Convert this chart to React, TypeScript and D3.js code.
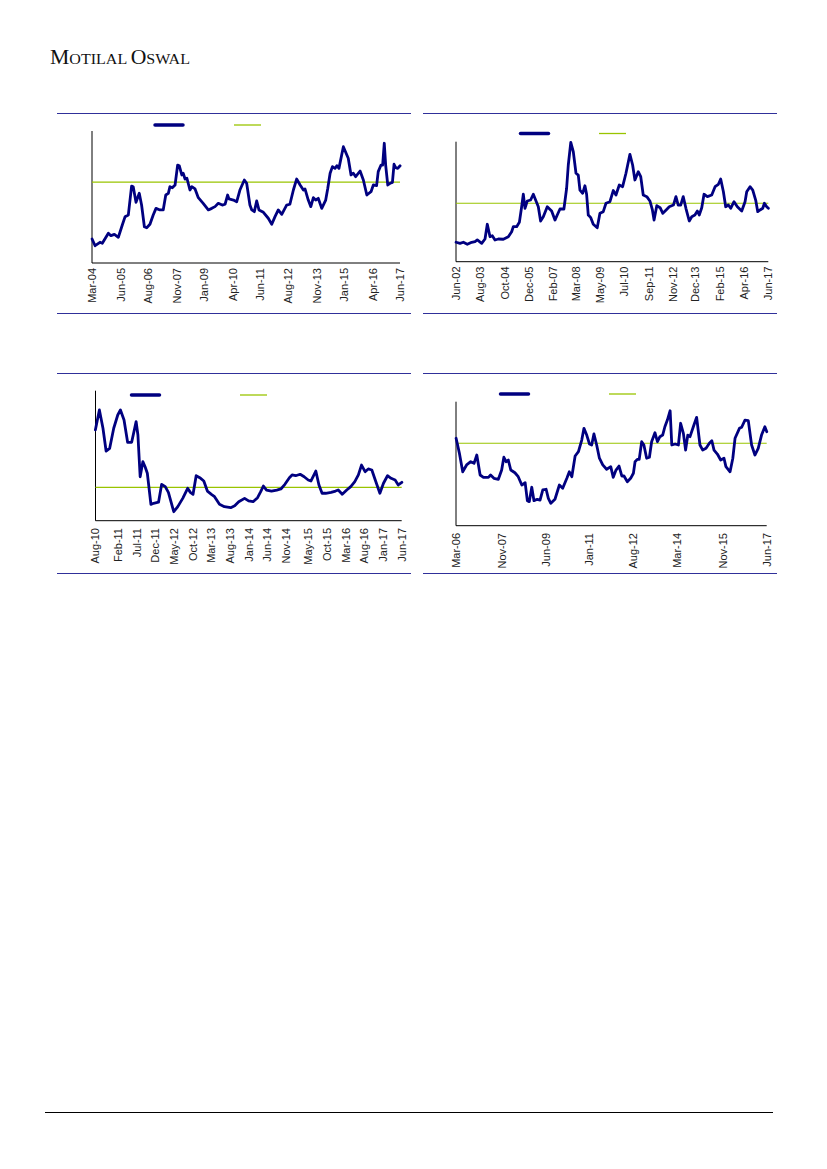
import React from "react";
import * as d3 from "d3";

// ---------- DATA (decimal year, relative value 0-100 of plot height) ----------
const ticksA = ["Mar-04", "Jun-05", "Aug-06", "Nov-07", "Jan-09", "Apr-10", "Jun-11", "Aug-12", "Nov-13", "Jan-15", "Apr-16", "Jun-17"];
const avgA = 61.2;
const seriesA: [number, number][] = [
  [2004.17, 18.2], [2004.3, 13.1], [2004.51, 15.7], [2004.61, 14.9], [2004.87, 22.5], [2004.98, 20.7], [2005.13, 21.7], [2005.3, 19.5],
  [2005.47, 28.8], [2005.59, 35.1], [2005.73, 36.4], [2005.87, 58.3], [2005.94, 57.8], [2006.06, 46.0], [2006.2, 52.8], [2006.3, 43.9],
  [2006.42, 27.5], [2006.52, 26.7], [2006.66, 29.3], [2006.8, 36.4], [2006.92, 41.4], [2007.09, 40.2], [2007.23, 40.2], [2007.34, 51.5],
  [2007.45, 52.8], [2007.52, 57.8], [2007.62, 57.0], [2007.74, 59.1], [2007.85, 74.2], [2007.92, 73.7], [2008.03, 66.7], [2008.09, 68.0],
  [2008.17, 63.6], [2008.25, 64.2], [2008.38, 55.3], [2008.46, 57.8], [2008.6, 56.1], [2008.74, 49.5], [2008.95, 45.2], [2009.17, 40.2],
  [2009.32, 41.4], [2009.46, 42.7], [2009.6, 45.2], [2009.77, 43.9], [2009.89, 44.5], [2010.0, 51.5], [2010.06, 48.5], [2010.25, 47.7],
  [2010.39, 46.4], [2010.53, 55.3], [2010.72, 62.9], [2010.82, 60.4], [2010.96, 43.9], [2011.04, 40.2], [2011.15, 38.9], [2011.25, 47.0],
  [2011.35, 40.2], [2011.54, 38.4], [2011.75, 33.9], [2011.9, 29.3], [2012.04, 35.1], [2012.18, 40.2], [2012.33, 36.9], [2012.54, 43.9],
  [2012.68, 44.5], [2012.83, 55.3], [2012.97, 63.6], [2013.12, 59.1], [2013.26, 55.3], [2013.33, 56.1], [2013.47, 47.7], [2013.58, 42.7],
  [2013.69, 49.5], [2013.79, 47.7], [2013.9, 49.0], [2014.05, 41.4], [2014.22, 47.7], [2014.31, 56.6], [2014.41, 68.0], [2014.51, 73.0],
  [2014.62, 71.7], [2014.7, 73.7], [2014.79, 71.7], [2014.98, 88.1], [2015.19, 79.3], [2015.31, 66.7], [2015.41, 68.0], [2015.51, 65.4],
  [2015.7, 69.7], [2015.84, 62.9], [2015.99, 51.5], [2016.17, 54.0], [2016.27, 59.1], [2016.41, 58.6], [2016.48, 69.2], [2016.6, 74.2],
  [2016.67, 74.2], [2016.74, 90.7], [2016.8, 74.2], [2016.89, 59.1], [2016.99, 60.4], [2017.09, 61.1], [2017.16, 74.8], [2017.23, 72.2],
  [2017.32, 71.7], [2017.42, 73.7],
];

const ticksB = ["Jun-02", "Aug-03", "Oct-04", "Dec-05", "Feb-07", "Mar-08", "May-09", "Jul-10", "Sep-11", "Nov-12", "Dec-13", "Feb-15", "Apr-16", "Jun-17"];
const avgB = 48.7;
const seriesB: [number, number][] = [
  [2002.42, 16.2], [2002.61, 15.3], [2002.77, 16.2], [2002.96, 14.5], [2003.17, 16.2], [2003.33, 16.7], [2003.44, 18.1], [2003.65, 15.3],
  [2003.81, 18.9], [2003.92, 31.2], [2004.05, 20.8], [2004.16, 21.7], [2004.29, 18.1], [2004.45, 18.9], [2004.69, 18.7], [2004.93, 20.8],
  [2005.09, 25.0], [2005.17, 29.2], [2005.33, 29.2], [2005.46, 32.8], [2005.57, 45.8], [2005.65, 56.2], [2005.73, 44.5], [2005.84, 50.6],
  [2006.0, 51.4], [2006.13, 56.2], [2006.26, 50.6], [2006.37, 45.8], [2006.48, 33.9], [2006.61, 37.5], [2006.8, 45.8], [2007.01, 42.2],
  [2007.17, 34.7], [2007.28, 38.9], [2007.41, 43.9], [2007.6, 43.9], [2007.73, 61.2], [2007.81, 80.6], [2007.93, 99.5], [2008.05, 91.7],
  [2008.18, 73.7], [2008.29, 72.2], [2008.37, 59.7], [2008.5, 57.0], [2008.61, 63.3], [2008.69, 56.2], [2008.77, 38.9], [2008.89, 36.7],
  [2009.01, 31.2], [2009.2, 28.3], [2009.33, 40.3], [2009.49, 41.7], [2009.62, 48.7], [2009.81, 50.0], [2009.97, 59.3], [2010.1, 55.6],
  [2010.26, 63.9], [2010.42, 62.5], [2010.58, 73.7], [2010.77, 89.5], [2010.9, 80.6], [2011.01, 68.1], [2011.17, 75.0], [2011.29, 70.8],
  [2011.41, 55.6], [2011.58, 54.2], [2011.73, 50.6], [2011.85, 43.1], [2011.93, 34.7], [2012.06, 46.7], [2012.22, 45.0], [2012.35, 40.3],
  [2012.51, 43.1], [2012.66, 45.8], [2012.86, 47.2], [2012.98, 54.2], [2013.09, 47.2], [2013.21, 47.2], [2013.33, 54.2], [2013.46, 44.5],
  [2013.62, 33.9], [2013.74, 37.5], [2013.89, 38.9], [2014.01, 42.2], [2014.1, 38.9], [2014.22, 45.0], [2014.33, 56.2], [2014.49, 54.2],
  [2014.7, 55.6], [2014.86, 62.5], [2015.02, 64.5], [2015.13, 68.9], [2015.26, 58.3], [2015.37, 45.8], [2015.5, 47.2], [2015.61, 44.5],
  [2015.77, 50.0], [2015.93, 45.8], [2016.14, 42.2], [2016.3, 50.0], [2016.38, 58.3], [2016.54, 62.5], [2016.67, 59.7], [2016.81, 51.4],
  [2016.91, 41.7], [2017.02, 43.1], [2017.15, 44.5], [2017.23, 48.7], [2017.34, 45.8], [2017.42, 44.5],
];

const ticksC = ["Aug-10", "Feb-11", "Jul-11", "Dec-11", "May-12", "Oct-12", "Mar-13", "Aug-13", "Jan-14", "Jun-14", "Nov-14", "May-15", "Oct-15", "Mar-16", "Aug-16", "Jan-17", "Jun-17"];
const avgC = 25.7;
const seriesC: [number, number][] = [
  [2010.58, 69.8], [2010.67, 85.2], [2010.75, 71.1], [2010.82, 53.6], [2010.9, 55.7], [2010.99, 71.1], [2011.08, 81.3], [2011.14, 85.2],
  [2011.22, 77.5], [2011.3, 60.3], [2011.39, 60.3], [2011.49, 76.2], [2011.53, 65.9], [2011.58, 33.8], [2011.64, 45.4], [2011.69, 41.5],
  [2011.74, 36.5], [2011.82, 12.6], [2011.88, 13.4], [2011.99, 14.2], [2012.06, 28.0], [2012.14, 26.2], [2012.21, 21.8], [2012.33, 6.9],
  [2012.42, 10.8], [2012.53, 17.2], [2012.64, 24.9], [2012.7, 21.8], [2012.76, 20.3], [2012.83, 34.6], [2012.91, 33.1], [2013.0, 30.5],
  [2013.08, 22.8], [2013.17, 20.3], [2013.24, 18.5], [2013.35, 12.6], [2013.46, 10.8], [2013.6, 10.0], [2013.69, 11.5], [2013.78, 14.6],
  [2013.91, 17.2], [2014.0, 15.2], [2014.1, 14.6], [2014.2, 17.7], [2014.27, 22.3], [2014.33, 26.7], [2014.4, 23.6], [2014.51, 22.8],
  [2014.63, 23.6], [2014.72, 24.4], [2014.81, 28.0], [2014.91, 33.1], [2014.97, 35.2], [2015.05, 34.6], [2015.15, 35.7], [2015.24, 33.8],
  [2015.33, 31.3], [2015.39, 30.5], [2015.5, 38.2], [2015.57, 27.5], [2015.64, 21.1], [2015.72, 21.1], [2015.84, 21.8], [2015.94, 22.8],
  [2016.0, 23.6], [2016.09, 20.3], [2016.19, 23.6], [2016.28, 26.2], [2016.37, 30.0], [2016.45, 35.2], [2016.52, 42.8], [2016.6, 37.7],
  [2016.67, 39.8], [2016.75, 39.0], [2016.84, 30.0], [2016.93, 21.1], [2017.01, 28.8], [2017.1, 34.6], [2017.18, 32.6], [2017.27, 31.3],
  [2017.34, 27.5], [2017.42, 29.5],
];

const ticksD = ["Mar-06", "Nov-07", "Jun-09", "Jan-11", "Aug-12", "Mar-14", "Nov-15", "Jun-17"];
const avgD = 66.5;
const seriesD: [number, number][] = [
  [2006.17, 70.5], [2006.29, 58.4], [2006.41, 43.5], [2006.55, 49.0], [2006.7, 51.6], [2006.82, 50.3], [2006.92, 57.0], [2007.04, 40.9],
  [2007.16, 39.0], [2007.34, 39.0], [2007.42, 40.9], [2007.54, 38.2], [2007.7, 37.4], [2007.82, 44.9], [2007.9, 55.2], [2007.98, 51.6],
  [2008.06, 53.0], [2008.15, 44.9], [2008.3, 42.7], [2008.42, 39.5], [2008.55, 32.8], [2008.67, 34.7], [2008.75, 20.2], [2008.82, 19.4],
  [2008.91, 31.0], [2008.99, 20.2], [2009.11, 21.3], [2009.21, 20.7], [2009.31, 28.8], [2009.43, 29.4], [2009.51, 22.1], [2009.6, 18.1],
  [2009.75, 21.3], [2009.91, 32.8], [2010.03, 30.2], [2010.18, 38.2], [2010.27, 43.5], [2010.36, 39.5], [2010.48, 56.2], [2010.6, 59.7],
  [2010.72, 69.1], [2010.8, 78.5], [2010.9, 73.1], [2011.0, 65.9], [2011.08, 65.1], [2011.16, 74.0], [2011.26, 65.1], [2011.36, 54.4],
  [2011.48, 49.0], [2011.62, 45.5], [2011.77, 47.6], [2011.86, 39.0], [2011.96, 44.9], [2012.07, 48.1], [2012.17, 40.1], [2012.25, 40.1],
  [2012.37, 35.5], [2012.49, 38.2], [2012.59, 42.3], [2012.65, 51.6], [2012.73, 53.5], [2012.8, 53.5], [2012.89, 67.7], [2012.97, 65.1],
  [2013.07, 54.4], [2013.17, 55.2], [2013.25, 67.7], [2013.37, 75.0], [2013.46, 67.7], [2013.55, 71.8], [2013.65, 73.1], [2013.73, 79.8],
  [2013.82, 85.2], [2013.92, 92.7], [2013.98, 65.1], [2014.1, 65.9], [2014.22, 65.1], [2014.3, 82.6], [2014.4, 74.5], [2014.48, 61.0],
  [2014.56, 73.1], [2014.64, 71.8], [2014.76, 79.8], [2014.88, 87.4], [2015.0, 65.1], [2015.1, 61.0], [2015.22, 62.4], [2015.34, 66.5],
  [2015.43, 68.5], [2015.51, 61.0], [2015.63, 57.8], [2015.75, 53.0], [2015.87, 54.4], [2015.94, 47.6], [2016.09, 43.5], [2016.19, 54.4],
  [2016.27, 70.5], [2016.43, 78.5], [2016.51, 79.4], [2016.63, 85.2], [2016.75, 84.7], [2016.87, 65.1], [2016.99, 57.0], [2017.11, 62.4],
  [2017.23, 73.1], [2017.35, 79.8], [2017.42, 75.8],
];

// ---------- helpers ----------
const MONTHS = ["Jan", "Feb", "Mar", "Apr", "May", "Jun", "Jul", "Aug", "Sep", "Oct", "Nov", "Dec"];
function toYear(label: string): number {
  const [m, y] = label.split("-");
  return 2000 + Number(y) + MONTHS.indexOf(m) / 12;
}

const NAVY = "#000080";
const GREEN = "#99c400";
const RULE = "#30309a";

type Frame = {
  x0: number; x1: number; yTop: number; yBottom: number;
  ruleX0: number; ruleX1: number; ruleTop: number; ruleBottom: number;
  legendY: number; blueX: number; greenX: number; labelTop: number;
};

function Panel({ series, avg, ticks, f }: { series: [number, number][]; avg: number; ticks: string[]; f: Frame }) {
  const x = d3.scaleLinear().domain([toYear(ticks[0]), toYear(ticks[ticks.length - 1])]).range([f.x0, f.x1]);
  const y = d3.scaleLinear().domain([0, 100]).range([f.yBottom, f.yTop]);
  const line = d3.line<[number, number]>().x((d) => x(d[0])).y((d) => y(d[1]));
  return (
    <g>
      <line x1={f.ruleX0} x2={f.ruleX1} y1={f.ruleTop} y2={f.ruleTop} stroke={RULE} strokeWidth={1} />
      <line x1={f.ruleX0} x2={f.ruleX1} y1={f.ruleBottom} y2={f.ruleBottom} stroke={RULE} strokeWidth={1} />
      {/* legend swatches */}
      <line x1={f.blueX} x2={f.blueX + 28} y1={f.legendY} y2={f.legendY} stroke={NAVY} strokeWidth={3.5} strokeLinecap="round" />
      <line x1={f.greenX} x2={f.greenX + 27} y1={f.legendY} y2={f.legendY} stroke={GREEN} strokeWidth={1.3} />
      {/* axes */}
      <line x1={f.x0} x2={f.x0} y1={f.yTop} y2={f.yBottom} stroke="#000" strokeWidth={1} />
      <line x1={f.x0} x2={f.x1} y1={f.yBottom} y2={f.yBottom} stroke="#000" strokeWidth={1} />
      {/* average */}
      <line x1={f.x0} x2={f.x1} y1={y(avg)} y2={y(avg)} stroke={GREEN} strokeWidth={1.2} />
      <path d={line(series) || ""} fill="none" stroke={NAVY} strokeWidth={2.8} strokeLinejoin="round" strokeLinecap="round" />
      {ticks.map((t) => (
        <text
          key={t}
          transform={`translate(${x(toYear(t))},${f.labelTop}) rotate(-90)`}
          textAnchor="end"
          dy="0.36em"
          fontFamily="'Liberation Sans', Arial, sans-serif"
          fontSize={11}
          fill="#222"
        >
          {t}
        </text>
      ))}
    </g>
  );
}

const frameA: Frame = { x0: 92, x1: 400, yTop: 131, yBottom: 263, ruleX0: 57, ruleX1: 411, ruleTop: 113.5, ruleBottom: 313.5, legendY: 125, blueX: 155, greenX: 234, labelTop: 268 };
const frameB: Frame = { x0: 456, x1: 768.3, yTop: 141.7, yBottom: 261.7, ruleX0: 423, ruleX1: 777, ruleTop: 113.5, ruleBottom: 313.5, legendY: 133.5, blueX: 520.5, greenX: 599, labelTop: 266.5 };
const frameC: Frame = { x0: 95.5, x1: 401.7, yTop: 390.7, yBottom: 520.7, ruleX0: 57, ruleX1: 411, ruleTop: 373.5, ruleBottom: 573.5, legendY: 395, blueX: 131.5, greenX: 240, labelTop: 528 };
const frameD: Frame = { x0: 456, x1: 766.7, yTop: 401.7, yBottom: 525.7, ruleX0: 423, ruleX1: 777, ruleTop: 373.5, ruleBottom: 573.5, legendY: 394, blueX: 500.5, greenX: 609, labelTop: 533 };

export default function App() {
  return (
    <svg width={827} height={1169} style={{ position: "absolute", left: 0, top: 0, background: "#fff" }}>
      <text x={50} y={64} fontFamily="'Liberation Serif', 'DejaVu Serif', serif" fill="#111" textLength={140} lengthAdjust="spacingAndGlyphs">
        <tspan fontSize={21}>M</tspan>
        <tspan fontSize={15.5}>OTILAL </tspan>
        <tspan fontSize={21}>O</tspan>
        <tspan fontSize={15.5}>SWAL</tspan>
      </text>
      <Panel series={seriesA} avg={avgA} ticks={ticksA} f={frameA} />
      <Panel series={seriesB} avg={avgB} ticks={ticksB} f={frameB} />
      <Panel series={seriesC} avg={avgC} ticks={ticksC} f={frameC} />
      <Panel series={seriesD} avg={avgD} ticks={ticksD} f={frameD} />
      <line x1={45} x2={773} y1={1112.5} y2={1112.5} stroke="#000" strokeWidth={1.2} />
    </svg>
  );
}
